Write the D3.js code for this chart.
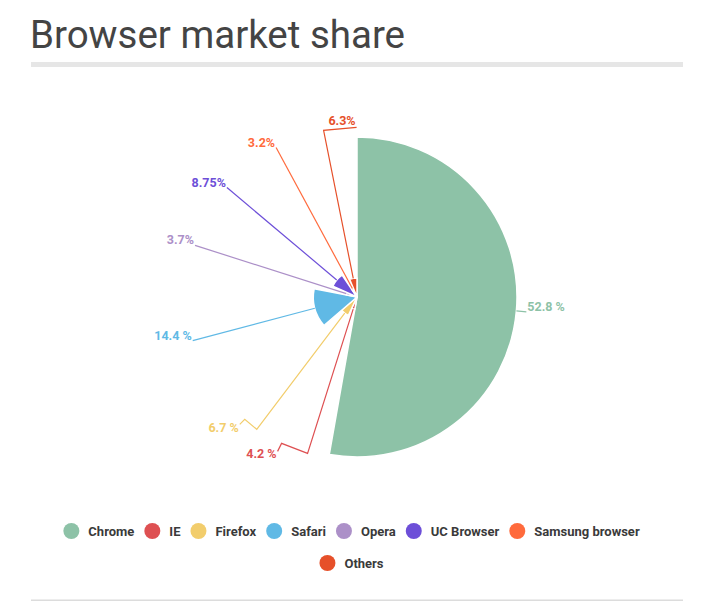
<!DOCTYPE html>
<html>
<head>
<meta charset="utf-8">
<script src="https://cdn.jsdelivr.net/npm/d3@7"></script>
<style>
  html, body { margin: 0; padding: 0; background: #fff; }
  svg { display: block; font-family: Roboto, "Noto Sans", sans-serif; }
</style>
</head>
<body>
<svg id="chart" width="713" height="613"></svg>
<script>
// ---- data ----
const categories = ["Chrome", "IE", "Firefox", "Safari", "Opera", "UC Browser", "Samsung browser", "Others"];
const shares = [52.8, 4.2, 6.7, 14.4, 3.7, 8.75, 3.2, 6.3];
const valueLabels = ["52.8 %", "4.2 %", "6.7 %", "14.4 %", "3.7%", "8.75%", "3.2%", "6.3%"];
const colors = ["#8dc2a7", "#de5052", "#f2cd6c", "#60b9e5", "#ac90c8", "#6d4fd8", "#ff6a3c", "#e6502a"];
const title = "Browser market share";

// ---- layout ----
const W = 713, H = 613;
const cx = 357, cy = 297;
const maxR = 160, labelR = 170;
// label collision adjustments (layout only)
const labelLayout = {
  "IE":      { r: 164, pts: [[-26, -10], [-30, -2]], textDy: 7 },
  "Firefox": { r: 166, pts: [[-12, -10], [-17, -5]], textDy: 8 },
  "Others":  { r: 170, pts: [[33, -3]], textDy: -2 }
};

const svg = d3.select("#chart");
const data = categories.map((c, i) => ({ name: c, value: shares[i], label: valueLabels[i], color: colors[i] }));

// Title
svg.append("text")
  .attr("x", 30).attr("y", 48)
  .attr("font-size", 38.5).attr("fill", "#444")
  .attr("font-weight", 400)
  .text(title);
svg.append("rect").attr("x", 31).attr("y", 62).attr("width", 652).attr("height", 5).attr("fill", "#e6e6e6");
svg.append("rect").attr("x", 31).attr("y", 599.5).attr("width", 652).attr("height", 1.5).attr("fill", "#dcdcdc");

// Pie
const rScale = d3.scaleLinear().domain([0, d3.max(shares)]).range([0, maxR]);
const pie = d3.pie().value(d => d.value).sort(null);
const arcs = pie(data);
const g = svg.append("g").attr("transform", `translate(${cx},${cy})`);

g.selectAll("path.slice").data(arcs).join("path")
  .attr("class", "slice")
  .attr("d", d => d3.arc().innerRadius(0).outerRadius(rScale(d.data.value))(d))
  .attr("fill", d => d.data.color)
  .attr("stroke", "#fff").attr("stroke-width", 1.5).attr("stroke-linejoin", "round");

// Labels + ticks
const pt = (a, r) => [Math.sin(a) * r, -Math.cos(a) * r];
arcs.forEach(d => {
  const mid = (d.startAngle + d.endAngle) / 2;
  const lay = labelLayout[d.data.name] || { r: labelR, pts: [], textDy: -1 };
  const start = pt(mid, rScale(d.data.value));
  const rp = pt(mid, lay.r);
  const pts = [start, rp].concat(lay.pts.map(p => [rp[0] + p[0], rp[1] + p[1]]));
  const end = pts[pts.length - 1];
  g.append("path")
    .attr("d", d3.line()(pts))
    .attr("fill", "none").attr("stroke", d.data.color).attr("stroke-width", 1.2);
  const right = end[0] > 0 && !labelLayout[d.data.name];
  g.append("text")
    .attr("x", end[0] + (right ? 1 : -1))
    .attr("y", end[1] + lay.textDy)
    .attr("text-anchor", right ? "start" : "end")
    .attr("font-size", 12.5).attr("font-weight", 700)
    .attr("fill", d.data.color)
    .text(d.data.label);
});

// Legend
const lg = svg.append("g");
const maxRowW = 630, circleD = 16, gapIn = 9, gapOut = 10;
const items = lg.selectAll("g.item").data(data).join("g").attr("class", "item");
items.append("circle").attr("r", 8).attr("cx", 8).attr("fill", d => d.color);
items.append("text").attr("x", circleD + gapIn).attr("y", 4.5)
  .attr("font-size", 13).attr("font-weight", 700).attr("fill", "#3a3a3a")
  .text(d => d.name);
const widths = [];
items.each(function () { widths.push(circleD + gapIn + d3.select(this).select("text").node().getComputedTextLength()); });
const rows = [[]];
let rowW = 0;
widths.forEach((w, i) => {
  const add = (rows[rows.length - 1].length ? gapOut : 0) + w;
  if (rowW + add > maxRowW && rows[rows.length - 1].length) { rows.push([i]); rowW = w; }
  else { rows[rows.length - 1].push(i); rowW += add; }
});
rows.forEach((row, ri) => {
  const tot = d3.sum(row, i => widths[i]) + gapOut * row.length; // includes trailing gap
  let x = W / 2 - tot / 2;
  row.forEach(i => {
    d3.select(items.nodes()[i]).attr("transform", `translate(${x},${531 + ri * 32})`);
    x += widths[i] + gapOut;
  });
});
</script>
</body>
</html>
